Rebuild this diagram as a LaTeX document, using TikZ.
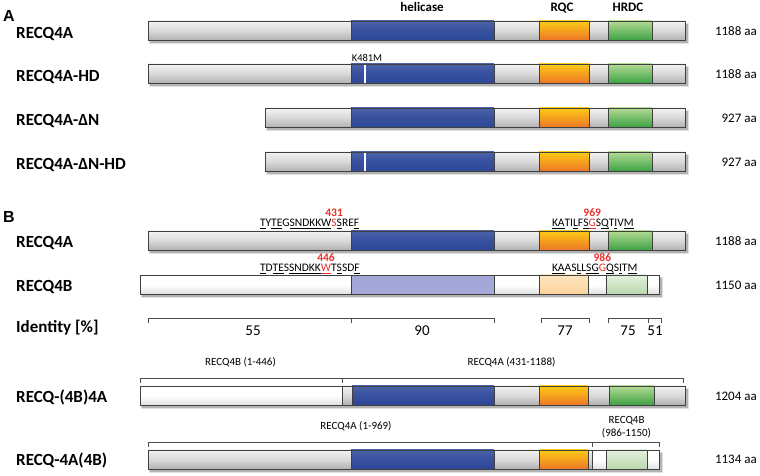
\documentclass[tikz,border=0pt]{standalone}
\usepackage{fontspec}
\setmainfont{Carlito}
\newfontfamily\lsans{Liberation Sans}
\definecolor{hblue}{HTML}{2C4799}
\definecolor{mred}{HTML}{E8302A}
\definecolor{otop}{HTML}{FCCB16}
\definecolor{obot}{HTML}{EC7428}
\definecolor{grtop}{HTML}{B4DA94}
\definecolor{grbot}{HTML}{3AA142}
\definecolor{lblue}{HTML}{A3A8D8}
\definecolor{lotop}{HTML}{FDE6C0}
\definecolor{lobot}{HTML}{FBD39A}
\definecolor{lgtop}{HTML}{E4F0DE}
\definecolor{lgbot}{HTML}{B9D6AC}
\tikzset{
  seg/.style={draw=black!75, line width=0.7pt},
  gseg/.style={seg, top color=gray!10, bottom color=gray!62, middle color=gray!30},
  bseg/.style={seg, top color=hblue!85!white, bottom color=hblue, middle color=hblue!95!white},
  oseg/.style={seg, top color=otop, bottom color=obot},
  grseg/.style={seg, top color=grtop, bottom color=grbot},
  wseg/.style={seg, top color=white, bottom color=gray!25, middle color=white},
  lbseg/.style={seg, fill=lblue},
  loseg/.style={seg, top color=lotop, bottom color=lobot},
  lgseg/.style={seg, top color=lgtop, bottom color=lgbot},
  br/.style={draw=black!70, line width=0.6pt},
  rowlab/.style={anchor=base west, inner sep=0pt, font=\fontsize{17}{20}\selectfont\bfseries},
  aalab/.style={anchor=base east, inner sep=0pt, font=\fontsize{13}{15}\selectfont},
  domlab/.style={anchor=base, inner sep=0pt, font=\fontsize{13}{15}\selectfont\bfseries},
  seqlab/.style={anchor=base west, inner sep=0pt, outer sep=0pt, font=\fontsize{11.5}{13}\selectfont},
  mutlab/.style={seqlab, text=mred},
  numlab/.style={anchor=base, inner sep=0pt, text=mred, font=\fontsize{11.5}{13}\selectfont\bfseries},
  fuslab/.style={anchor=base, inner sep=0pt, font=\fontsize{11}{13}\selectfont},
  idlab/.style={anchor=base, inner sep=0pt, font=\fontsize{15}{17}\selectfont},
  panlab/.style={anchor=base west, inner sep=0pt, font=\fontsize{16}{18}\selectfont\lsans\bfseries},
}
\newcommand\sg[4]{\path[#4] (#1,{476-(#3)}) rectangle (#2,{476-(#3)-19.5});}
\newcommand\shd[3]{%
  \fill[black,opacity=.12] ({#1+1},{476-(#3)-2}) rectangle ({#2+3.5},{476-(#3)-23.5});
  \fill[black,opacity=.2] ({#1+2},{476-(#3)-3}) rectangle ({#2+2.5},{476-(#3)-22});}
\newcommand\fullA[1]{%
  \sg{351}{494}{#1}{bseg}\sg{494}{539}{#1}{gseg}\sg{539}{589}{#1}{oseg}%
  \sg{589}{608}{#1}{gseg}\sg{608}{652}{#1}{grseg}\sg{652}{685}{#1}{gseg}}
\newcommand\wline[1]{\draw[white, line width=1.3pt] (365,{476-(#1)-0.6}) -- (365,{476-(#1)-18.9});}
\newcommand\ul[1]{\underline{\smash{#1}}}
\begin{document}
\begin{tikzpicture}[x=1pt,y=1pt]
\useasboundingbox (0,0) rectangle (760,476);
% ---------- Panel A ----------
\node[panlab] (pA) at (3,{476-21.7}) {A};
\node[domlab] (hel) at (422,{476-12}) {helicase};
\node[domlab] (rqc) at (562,{476-12}) {RQC};
\node[domlab] (hrdc) at (628,{476-12}) {HRDC};
% A1
\shd{148}{685}{21}\sg{148}{351}{21}{gseg}\fullA{21}
\node[rowlab] (a1) at (16,{476-38.5}) {RECQ4A};
\node[aalab] (a1aa) at (757,{476-36}) {1188 aa};
% A2
\shd{148}{685}{64}\sg{148}{351}{64}{gseg}\fullA{64}\wline{64}
\node[anchor=base, inner sep=0pt, font=\fontsize{10.5}{12}\selectfont] (k481) at (367,{476-61.5}) {K481M};
\node[rowlab] (a2) at (16,{476-81.5}) {RECQ4A-HD};
\node[aalab] (a2aa) at (757,{476-79}) {1188 aa};
% A3
\shd{265}{685}{108}\sg{265}{351}{108}{gseg}\fullA{108}
\node[rowlab] (a3) at (16,{476-125.5}) {RECQ4A-ΔN};
\node[aalab] (a3aa) at (757,{476-123}) {927 aa};
% A4
\shd{265}{685}{152}\sg{265}{351}{152}{gseg}\fullA{152}\wline{152}
\node[rowlab] (a4) at (16,{476-169.5}) {RECQ4A-ΔN-HD};
\node[aalab] (a4aa) at (757,{476-167}) {927 aa};
% ---------- Panel B ----------
\node[panlab] (pB) at (3,{476-223}) {B};
% B1
\shd{148}{685}{231}\sg{148}{351}{231}{gseg}\fullA{231}
\node[rowlab] (b1) at (16,{476-247.5}) {RECQ4A};
\node[aalab] (b1aa) at (757,{476-245.5}) {1188 aa};
\node[seqlab] (s1a) at (260,{476-226.5}) {\ul{T}Y\ul{TE}G\ul{SNDKKW}};
\node[mutlab] (s1m) at (s1a.base east) {S};
\node[seqlab] (s1b) at (s1m.base east) {\ul{S}RE\ul{F}};
\node[numlab] (n431) at ([yshift=9.5pt]s1m.base) {431};
\node[seqlab] (s3a) at (552,{476-226.5}) {\ul{KA}TI\ul{L}F\ul{S}};
\node[mutlab] (s3m) at (s3a.base east) {\ul{G}};
\node[seqlab] (s3b) at (s3m.base east) {S\ul{Q}T\ul{I}V\ul{M}};
\node[numlab] (n969) at ([yshift=9.5pt]s3m.base) {969};
% B2
\shd{140}{659}{275}
\sg{140}{351}{275}{wseg}\sg{351}{494}{275}{lbseg}\sg{494}{539}{275}{wseg}
\sg{539}{588}{275}{loseg}\sg{588}{606}{275}{wseg}\sg{606}{647}{275}{lgseg}\sg{647}{659}{275}{wseg}
\node[rowlab] (b2) at (16,{476-291.5}) {RECQ4B};
\node[aalab] (b2aa) at (757,{476-289.5}) {1150 aa};
\node[seqlab] (s2a) at (260,{476-271.5}) {\ul{T}D\ul{TE}S\ul{SNDKK}};
\node[mutlab] (s2m) at (s2a.base east) {\ul{W}};
\node[seqlab] (s2b) at (s2m.base east) {T\ul{S}SD\ul{F}};
\node[numlab] (n446) at ([yshift=9.5pt]s2m.base) {446};
\node[seqlab] (s4a) at (552,{476-271.5}) {\ul{KA}AS\ul{L}L\ul{SG}};
\node[mutlab] (s4m) at (s4a.base east) {G};
\node[seqlab] (s4b) at (s4m.base east) {\ul{Q}S\ul{I}T\ul{M}};
\node[numlab] (n986) at ([yshift=9.5pt]s4m.base) {986};
% Identity
\node[rowlab] (idl) at (16,{476-333}) {Identity [\%]};
\draw[br] (148,{476-323}) -- (148,{476-318}) -- (494,{476-318}) -- (494,{476-323});
\draw[br] (351,{476-318}) -- (351,{476-323});
\draw[br] (541,{476-323}) -- (541,{476-318}) -- (589,{476-318}) -- (589,{476-323});
\draw[br] (608,{476-323}) -- (608,{476-318}) -- (661,{476-318}) -- (661,{476-323});
\draw[br] (648,{476-318}) -- (648,{476-323});
\node[idlab] (i55) at (253,{476-335.5}) {55};
\node[idlab] (i90) at (422,{476-335.5}) {90};
\node[idlab] (i77) at (565,{476-335.5}) {77};
\node[idlab] (i75) at (628,{476-335.5}) {75};
\node[idlab] (i51) at (655,{476-335.5}) {51};
% C1 RECQ-(4B)4A
\draw[br] (140,{476-383}) -- (140,{476-378}) -- (683,{476-378}) -- (683,{476-383});
\draw[br] (342,{476-378}) -- (342,{476-383});
\node[fuslab] (f1) at (240.5,{476-366}) {RECQ4B (1-446)};
\node[fuslab] (f2) at (511.5,{476-366}) {RECQ4A (431-1188)};
\shd{140}{685}{386}
\sg{140}{342}{386}{wseg}\sg{342}{352}{386}{gseg}\sg{352}{494}{386}{bseg}\sg{494}{539}{386}{gseg}
\sg{539}{588}{386}{oseg}\sg{588}{609}{386}{gseg}\sg{609}{654}{386}{grseg}\sg{654}{685}{386}{gseg}
\node[rowlab] (c1) at (16,{476-402.5}) {RECQ-(4B)4A};
\node[aalab] (c1aa) at (757,{476-400.5}) {1204 aa};
% C2 RECQ-4A(4B)
\draw[br] (148,{476-447}) -- (148,{476-442}) -- (659,{476-442}) -- (659,{476-447});
\draw[br] (592,{476-442}) -- (592,{476-447});
\node[fuslab] (f3) at (356,{476-430}) {RECQ4A (1-969)};
\node[fuslab] (f4) at (626.5,{476-424}) {RECQ4B};
\node[fuslab] (f5) at (626.5,{476-436.5}) {(986-1150)};
\shd{148}{659}{450}
\sg{148}{351}{450}{gseg}\sg{351}{494}{450}{bseg}\sg{494}{539}{450}{gseg}\sg{539}{588}{450}{oseg}
\sg{588}{592}{450}{gseg}\sg{592}{606}{450}{wseg}\sg{606}{647}{450}{lgseg}\sg{647}{659}{450}{wseg}
\node[rowlab] (c2) at (16,{476-466}) {RECQ-4A(4B)};
\node[aalab] (c2aa) at (757,{476-464}) {1134 aa};
\end{tikzpicture}
\end{document}
